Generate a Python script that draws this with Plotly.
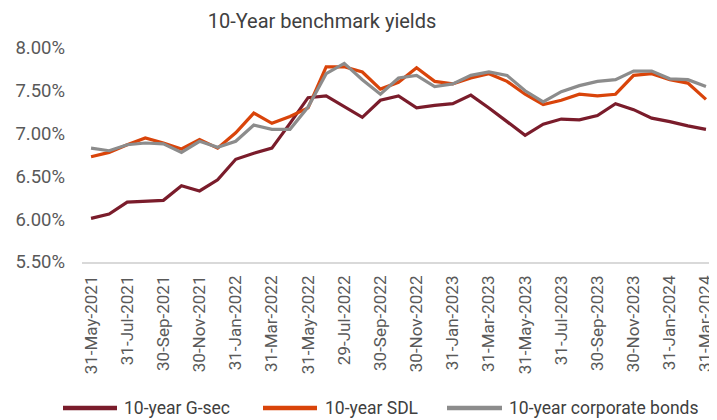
import plotly.graph_objects as go

# Month-end dates (category axis)
dates = [
    "31-May-2021", "30-Jun-2021", "31-Jul-2021", "31-Aug-2021", "30-Sep-2021",
    "31-Oct-2021", "30-Nov-2021", "31-Dec-2021", "31-Jan-2022", "28-Feb-2022",
    "31-Mar-2022", "30-Apr-2022", "31-May-2022", "30-Jun-2022", "29-Jul-2022",
    "31-Aug-2022", "30-Sep-2022", "31-Oct-2022", "30-Nov-2022", "30-Dec-2022",
    "31-Jan-2023", "28-Feb-2023", "31-Mar-2023", "28-Apr-2023", "31-May-2023",
    "30-Jun-2023", "31-Jul-2023", "31-Aug-2023", "30-Sep-2023", "31-Oct-2023",
    "30-Nov-2023", "29-Dec-2023", "31-Jan-2024", "29-Feb-2024", "31-Mar-2024",
]

gsec = [
    6.01, 6.06, 6.20, 6.21, 6.22, 6.39, 6.33, 6.46, 6.70, 6.77,
    6.83, 7.12, 7.42, 7.44, 7.31, 7.19, 7.39, 7.44, 7.30, 7.33,
    7.35, 7.45, 7.30, 7.14, 6.98, 7.11, 7.17, 7.16, 7.21, 7.35,
    7.28, 7.18, 7.14, 7.09, 7.05,
]
sdl = [
    6.73, 6.78, 6.87, 6.95, 6.89, 6.82, 6.93, 6.83, 7.01, 7.24,
    7.12, 7.20, 7.30, 7.78, 7.78, 7.72, 7.52, 7.60, 7.77, 7.61,
    7.58, 7.65, 7.70, 7.61, 7.46, 7.34, 7.39, 7.46, 7.44, 7.46,
    7.68, 7.70, 7.63, 7.59, 7.40,
]
corp = [
    6.83, 6.80, 6.87, 6.89, 6.88, 6.78, 6.91, 6.84, 6.91, 7.10,
    7.05, 7.05, 7.31, 7.70, 7.82, 7.63, 7.46, 7.65, 7.68, 7.55,
    7.58, 7.68, 7.72, 7.68, 7.50, 7.37, 7.49, 7.56, 7.61, 7.63,
    7.73, 7.73, 7.64, 7.63, 7.55,
]

y_ticks = [5.5, 6.0, 6.5, 7.0, 7.5, 8.0]

series = [
    ("10-year G-sec", gsec, "#7a1c2b"),
    ("10-year SDL", sdl, "#d9440a"),
    ("10-year corporate bonds", corp, "#8c8c8c"),
]

# page body has an 8px margin, so the figure is drawn 8px smaller
W, H = 709, 412
ML, MR, MT, MB = 74, 2, 40, 158
PW, PH = W - ML - MR, H - MT - MB

fig = go.Figure()
for name, vals, color in series:
    fig.add_trace(
        go.Scatter(
            x=dates,
            y=vals,
            mode="lines",
            name=name,
            line={"color": color, "width": 3.2},
            showlegend=False,
        )
    )

# Hand-drawn legend row under the axis (longer line swatches than plotly's)
legend_x = [(55, 109, 114), (255, 309, 315), (439, 494, 499)]
legend_y = (254 - 400) / PH
for (name, _, color), (x0, x1, xt) in zip(series, legend_x):
    fig.add_shape(
        type="line",
        xref="paper",
        yref="paper",
        x0=(x0 - ML) / PW,
        x1=(x1 - ML) / PW,
        y0=legend_y,
        y1=legend_y,
        line={"color": color, "width": 4.5},
    )
    fig.add_annotation(
        text=name,
        xref="paper",
        yref="paper",
        x=(xt - ML) / PW,
        y=legend_y,
        xanchor="left",
        yanchor="middle",
        showarrow=False,
        font={"size": 17.5, "color": "#404040"},
    )

fig.update_layout(
    width=W,
    height=H,
    margin={"l": ML, "r": MR, "t": MT, "b": MB},
    paper_bgcolor="white",
    plot_bgcolor="white",
    font={"family": "Roboto, Arial, sans-serif", "color": "#595959"},
    title={
        "text": "10-Year benchmark yields",
        "xref": "container",
        "x": 314 / W,
        "xanchor": "center",
        "yref": "container",
        "y": 1 - 13 / H,
        "yanchor": "middle",
        "font": {"size": 20, "color": "#404040"},
    },
    showlegend=False,
)

fig.update_xaxes(
    type="category",
    range=[-0.5, len(dates) - 0.5],
    tickmode="array",
    tickvals=dates[::2],
    ticktext=dates[::2],
    tickangle=-90,
    tickfont={"size": 17, "color": "#595959"},
    ticklabelstandoff=5,
    showgrid=False,
    showline=True,
    linecolor="#d9d9d9",
    linewidth=1.5,
    ticks="",
    zeroline=False,
)
fig.update_yaxes(
    range=[5.5, 8.0],
    tickmode="array",
    tickvals=y_ticks,
    ticktext=[f"{v:.2f}%" for v in y_ticks],
    tickfont={"size": 18.5, "color": "#595959"},
    ticklabelstandoff=16,
    showgrid=False,
    showline=False,
    zeroline=False,
    ticks="",
)

fig.write_html("out.html")
